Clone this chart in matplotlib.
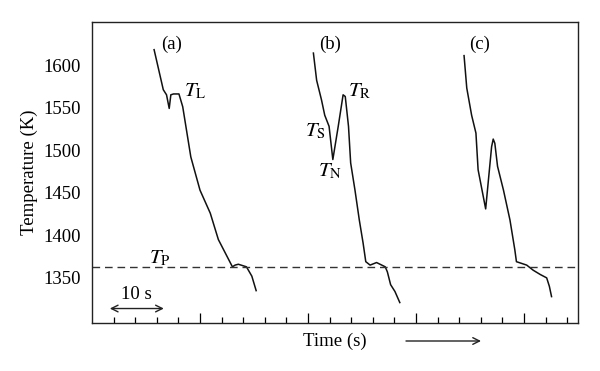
import matplotlib
matplotlib.use("Agg")
import matplotlib.pyplot as plt
import numpy as np

plt.rcParams["font.family"] = ["Liberation Serif", "DejaVu Serif"]
plt.rcParams["mathtext.fontset"] = "stix"

# ── Data (time in s, temperature in K) ─────────────────────────────
t_a = [11.5, 13.2, 13.8, 14.3, 14.6, 15.1, 16.1, 16.8, 18.3, 20.0, 21.9, 23.4,
       26.0, 26.5, 27.1, 28.6, 29.6, 30.4]
T_a = [1618, 1571, 1565, 1549, 1565, 1566, 1566, 1551, 1492, 1453, 1426, 1395,
       1363, 1365, 1366, 1363, 1352, 1335]

t_b = [41.0, 41.6, 42.5, 43.1, 43.9, 44.6, 45.6, 46.5, 46.9, 47.5, 47.9, 48.7,
       49.5, 50.2, 50.7, 51.5, 52.7, 54.3, 54.7, 55.3, 56.1, 57.0]
T_b = [1614, 1582, 1559, 1541, 1528, 1489, 1528, 1565, 1563, 1528, 1485, 1453,
       1418, 1391, 1369, 1365, 1368, 1363, 1357, 1342, 1334, 1321]

t_c = [68.9, 69.4, 70.3, 71.1, 71.5, 72.9, 74.0, 74.3, 74.6, 75.1, 76.2, 77.4,
       78.3, 78.6, 80.5, 81.7, 83.0, 84.2, 84.7, 85.1]
T_c = [1611, 1573, 1541, 1520, 1477, 1431, 1504, 1513, 1508, 1481, 1453, 1418,
       1383, 1369, 1365, 1359, 1354, 1350, 1340, 1328]

T_P = 1363
yticks = [1350, 1400, 1450, 1500, 1550, 1600]

fig = plt.figure(figsize=(6.0, 3.71), dpi=100)
ax = fig.add_axes([92 / 600, 1 - 323 / 371, 486 / 600, 301 / 371])

for t, T in [(t_a, T_a), (t_b, T_b), (t_c, T_c)]:
    ax.plot(t, T, color="#111111", lw=1.1)

ax.axhline(T_P, color="#333333", lw=1.0, dashes=(5.5, 3.5))

ax.set_xlim(0, 90)
ax.set_ylim(1297, 1650.5)
ax.set_yticks(yticks)
ax.set_xticks(np.arange(20, 90, 20))
ax.set_xticks(np.arange(4, 90, 4), minor=True)
ax.set_xticklabels([])
ax.tick_params(axis="y", length=0, labelsize=13.5, pad=8)
ax.tick_params(axis="x", which="major", direction="in", length=7, width=0.9)
ax.tick_params(axis="x", which="minor", direction="in", length=4, width=0.9)
for s in ax.spines.values():
    s.set_linewidth(1.0)
    s.set_color("#222222")

ax.set_ylabel("Temperature (K)", fontsize=13.5, labelpad=4)

# labels
fs = 13.5
ax.text(14.8, 1624, "(a)", fontsize=fs, ha="center", va="center")
ax.text(44.1, 1624, "(b)", fontsize=fs, ha="center", va="center")
ax.text(71.8, 1624, "(c)", fontsize=fs, ha="center", va="center")
ax.text(19.1, 1569, r"$T_\mathrm{L}$", fontsize=15, ha="center", va="center")
ax.text(49.6, 1569, r"$T_\mathrm{R}$", fontsize=15, ha="center", va="center")
ax.text(41.3, 1522, r"$T_\mathrm{S}$", fontsize=15, ha="center", va="center")
ax.text(44.1, 1475, r"$T_\mathrm{N}$", fontsize=15, ha="center", va="center")
ax.text(12.6, 1373, r"$T_\mathrm{P}$", fontsize=15, ha="center", va="center")

# 10 s scale bar
ax.annotate("", xy=(13.3, 1314), xytext=(3.3, 1314),
            arrowprops=dict(arrowstyle="<->", lw=1.0, color="#222222",
                            mutation_scale=12, shrinkA=0, shrinkB=0))
ax.text(8.3, 1321, "10 s", fontsize=fs, ha="center", va="bottom")

# x label and direction arrow
fig.text(335 / 600, 1 - 341 / 371, "Time (s)", fontsize=13.5, ha="center", va="center")
fig.patches.append(matplotlib.patches.FancyArrowPatch(
    (406 / 600, 1 - 341 / 371), (481 / 600, 1 - 341 / 371),
    transform=fig.transFigure, arrowstyle="->", lw=1.0, color="#222222",
    mutation_scale=12, shrinkA=0, shrinkB=0))

fig.savefig("out.png", dpi=100)
